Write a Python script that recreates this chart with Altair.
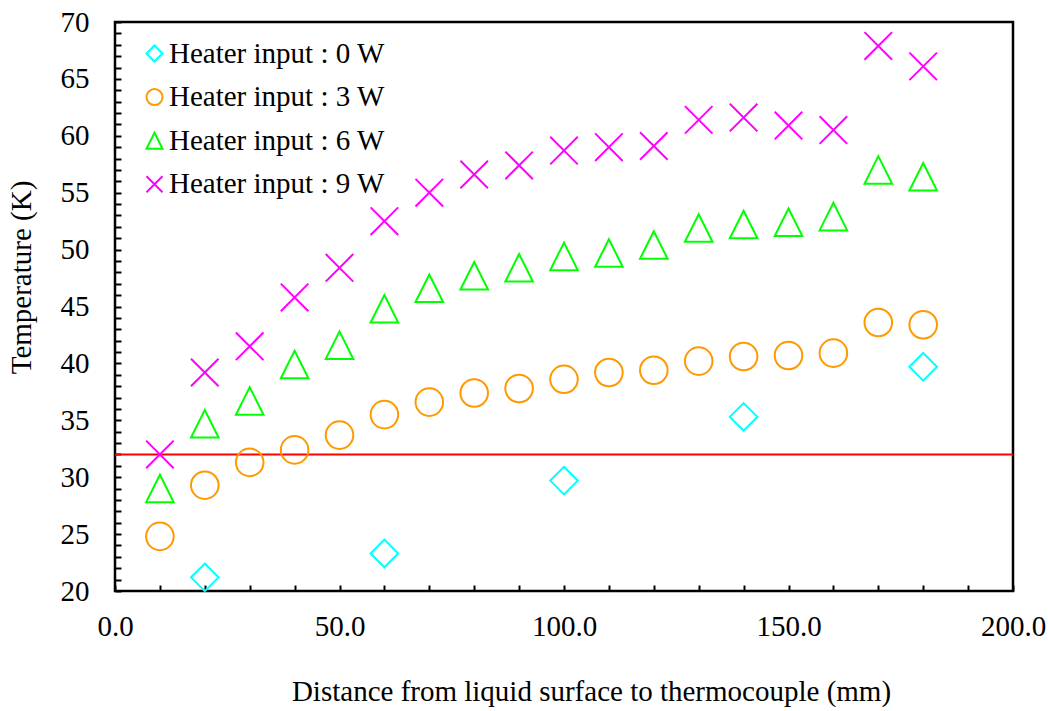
import altair as alt
import pandas as pd

# ---- data ----
series_labels = ["Heater input : 0 W", "Heater input : 3 W", "Heater input : 6 W", "Heater input : 9 W"]
series_colors = ["#00FFFF", "#FF9900", "#00FF00", "#FF00FF"]

distance_0w = [20, 60, 100, 140, 180]
temp_0w = [21.2, 23.3, 29.7, 35.3, 39.7]

distance_all = [10, 20, 30, 40, 50, 60, 70, 80, 90, 100, 110, 120, 130, 140, 150, 160, 170, 180]
temp_3w = [24.8, 29.3, 31.3, 32.4, 33.7, 35.5, 36.6, 37.4, 37.8, 38.6, 39.2, 39.4, 40.2, 40.6, 40.7, 40.9, 43.6, 43.4]
temp_6w = [29.0, 34.7, 36.7, 39.9, 41.6, 44.8, 46.6, 47.7, 48.4, 49.4, 49.7, 50.4, 51.9, 52.2, 52.4, 52.9, 57.0, 56.4]
temp_9w = [32.0, 39.2, 41.5, 45.8, 48.4, 52.5, 55.0, 56.6, 57.4, 58.7, 59.0, 59.1, 61.4, 61.6, 60.9, 60.5, 67.9, 66.1]

reference_line_temp = [32.0]

x_tick_values = list(range(0, 201, 10))
y_tick_values = list(range(20, 71))

# ---- build table ----
rows = []
for d, t in zip(distance_0w, temp_0w):
    rows.append({"distance": d, "temperature": t, "series": series_labels[0]})
for s, temps in zip(series_labels[1:], [temp_3w, temp_6w, temp_9w]):
    for d, t in zip(distance_all, temps):
        rows.append({"distance": d, "temperature": t, "series": s})
df = pd.DataFrame(rows)
ref_df = pd.DataFrame({"temperature": reference_line_temp})

shape_paths = [
    "M0,-1L1,0L0,1L-1,0Z",          # diamond
    "circle",                         # circle
    "M0,-1L1,1L-1,1Z",               # triangle
    "M-1,-1L1,1M-1,1L1,-1",           # x
]

FONT = "Liberation Serif"
FS = 29

x_scale = alt.Scale(domain=[0, 200], nice=False, zero=False)
y_scale = alt.Scale(domain=[20, 70], nice=False, zero=False)

x_axis = alt.Axis(
    values=x_tick_values, tickCount=100,
    labelExpr="datum.value % 50 === 0 ? format(datum.value, '.1f') : ''",
    offset=-6, tickSize=6, tickWidth=2, tickColor="black", domain=False, grid=False,
    labelOverlap=False, labelFlush=False, labelBound=False,
    labelPadding=21, labelFont=FONT, labelFontSize=FS, labelColor="black",
    title="Distance from liquid surface to thermocouple (mm)",
    titleFont=FONT, titleFontSize=FS, titleFontWeight="normal", titleColor="black",
    titleX=476, titleY=115, titleBaseline="alphabetic", titleAlign="center",
)
y_axis = alt.Axis(
    values=y_tick_values, tickCount=100,
    labelExpr="datum.value % 5 === 0 ? datum.value : ''",
    offset=-6, tickSize=6, tickWidth=2, tickColor="black", domain=False, grid=False,
    labelOverlap=False, labelFlush=False, labelBound=False,
    labelPadding=26, labelFont=FONT, labelFontSize=FS, labelColor="black",
    title="Temperature (K)",
    titleFont=FONT, titleFontSize=FS, titleFontWeight="normal", titleColor="black",
    titleX=-91, titleY=255, titleAngle=270, titleBaseline="alphabetic", titleAlign="center",
)

points = alt.Chart(df).mark_point(filled=False, size=760, strokeWidth=2, opacity=1).encode(
    x=alt.X("distance:Q", scale=x_scale, axis=x_axis),
    y=alt.Y("temperature:Q", scale=y_scale, axis=y_axis),
    color=alt.Color(
        "series:N",
        scale=alt.Scale(domain=series_labels, range=series_colors),
        legend=alt.Legend(
            title=None, orient="none", legendX=25, legendY=17, padding=0,
            labelFont=FONT, labelFontSize=FS, labelColor="black", labelOffset=0,
            symbolSize=256, symbolStrokeWidth=2, rowPadding=13.6, labelLimit=400,
        ),
    ),
    shape=alt.Shape("series:N", scale=alt.Scale(domain=series_labels, range=shape_paths)),
)

rule = alt.Chart(ref_df).mark_rule(color="#FF0000", strokeWidth=2).encode(
    y=alt.Y("temperature:Q", scale=y_scale),
)

chart = alt.layer(rule, points).properties(
    width=898, height=569,
    autosize=alt.AutoSizeParams(type="none"),
    padding={"left": 115, "top": 22, "right": 35, "bottom": 120},
    background="white",
).configure_view(stroke="black", strokeWidth=2.5)

chart.save("out.html", embed_options={"renderer": "svg", "actions": False})
